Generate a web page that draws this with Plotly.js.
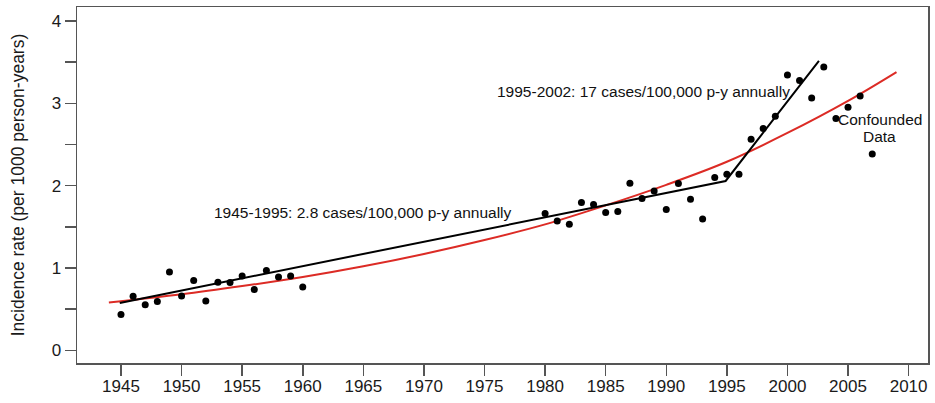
<!DOCTYPE html>
<html>
<head>
<meta charset="utf-8">
<script src="https://cdn.plot.ly/plotly-3.0.1.min.js"></script>
<style>html,body{margin:0;padding:0;background:#fff;}#chart{width:935px;height:403px;}</style>
</head>
<body>
<div id="chart"></div>
<script>
// Observed incidence rates
const years = [1945,1946,1947,1948,1949,1950,1951,1952,1953,1954,1955,1956,1957,1958,1959,1960,
  1980,1981,1982,1983,1984,1985,1986,1987,1988,1989,1990,1991,1992,1993,1994,1995,1996,1997,1998,1999,2000,2001,2002,2003,2004,2005,2006,2007];
const rates = [0.434,0.656,0.555,0.592,0.951,0.660,0.847,0.599,0.826,0.823,0.903,0.738,0.968,0.891,0.903,0.769,
  1.661,1.571,1.531,1.795,1.770,1.673,1.685,2.029,1.843,1.936,1.709,2.025,1.835,1.595,2.098,2.139,2.139,2.564,2.694,2.843,3.345,3.277,3.066,3.442,2.815,2.953,3.090,2.385];

// Piecewise linear trend (black)
const trendYears = [1944.9, 1994.9, 2002.6];
const trendRates = [0.575, 2.057, 3.515];

// Exponential fit curve (red)
const fitYears = [1944,1950,1955,1960,1965,1970,1975,1980,1985,1990,1995,2000,2005,2009];
const fitRates = [0.58,0.68,0.78,0.89,1.02,1.17,1.34,1.53,1.76,2.01,2.29,2.64,3.03,3.38];

const xTicks = [1945,1950,1955,1960,1965,1970,1975,1980,1985,1990,1995,2000,2005,2010];
const yTickVals = [0,0.5,1,1.5,2,2.5,3,3.5,4];
const yTickText = ['0','','1','','2','','3','','4'];

const font = 'Liberation Sans, Arial, sans-serif';

const traces = [
  {x: fitYears, y: fitRates, mode: 'lines', line: {color: '#dc2b25', width: 2, shape: 'spline'}, hoverinfo: 'skip'},
  {x: trendYears, y: trendRates, mode: 'lines', line: {color: '#000', width: 2}},
  {x: years, y: rates, mode: 'markers', marker: {color: '#000', size: 7}}
];

const axisCommon = {
  showgrid: false, zeroline: false, showline: true, mirror: true,
  linecolor: '#555', linewidth: 1.5, ticks: 'outside', ticklen: 11, tickwidth: 1.5, tickcolor: '#555',
  tickfont: {family: font, size: 17, color: '#1a1a1a'}
};

const layout = {
  width: 935, height: 403,
  margin: {l: 77, r: 7, t: 7, b: 40},
  paper_bgcolor: '#fff', plot_bgcolor: '#fff',
  showlegend: false,
  font: {family: font, color: '#111'},
  xaxis: Object.assign({}, axisCommon, {range: [1941.37, 2011.6], tickvals: xTicks, ticklabelstandoff: -4}),
  yaxis: Object.assign({}, axisCommon, {range: [-0.154, 4.17], tickvals: yTickVals, ticktext: yTickText,
    title: {text: 'Incidence rate (per 1000 person-years)', font: {family: font, size: 17.5, color: '#1a1a1a'}, standoff: 22}}),
  annotations: [
    {x: 1952.49, y: 1.68, xref: 'x', yref: 'y', text: '1945-1995: 2.8 cases/100,000 p-y annually', showarrow: false, xanchor: 'left', yanchor: 'middle', font: {family: font, size: 15.5, color: '#111'}},
    {x: 1975.88, y: 3.14, xref: 'x', yref: 'y', text: '1995-2002: 17 cases/100,000 p-y annually', showarrow: false, xanchor: 'left', yanchor: 'middle', font: {family: font, size: 15.5, color: '#111'}},
    {x: 2007.6, y: 2.80, xref: 'x', yref: 'y', text: 'Confounded', showarrow: false, xanchor: 'center', yanchor: 'middle', font: {family: font, size: 15.5, color: '#111'}},
    {x: 2007.6, y: 2.60, xref: 'x', yref: 'y', text: 'Data', showarrow: false, xanchor: 'center', yanchor: 'middle', font: {family: font, size: 15.5, color: '#111'}}
  ]
};

Plotly.newPlot('chart', traces, layout, {displayModeBar: false, staticPlot: true});
</script>
</body>
</html>
